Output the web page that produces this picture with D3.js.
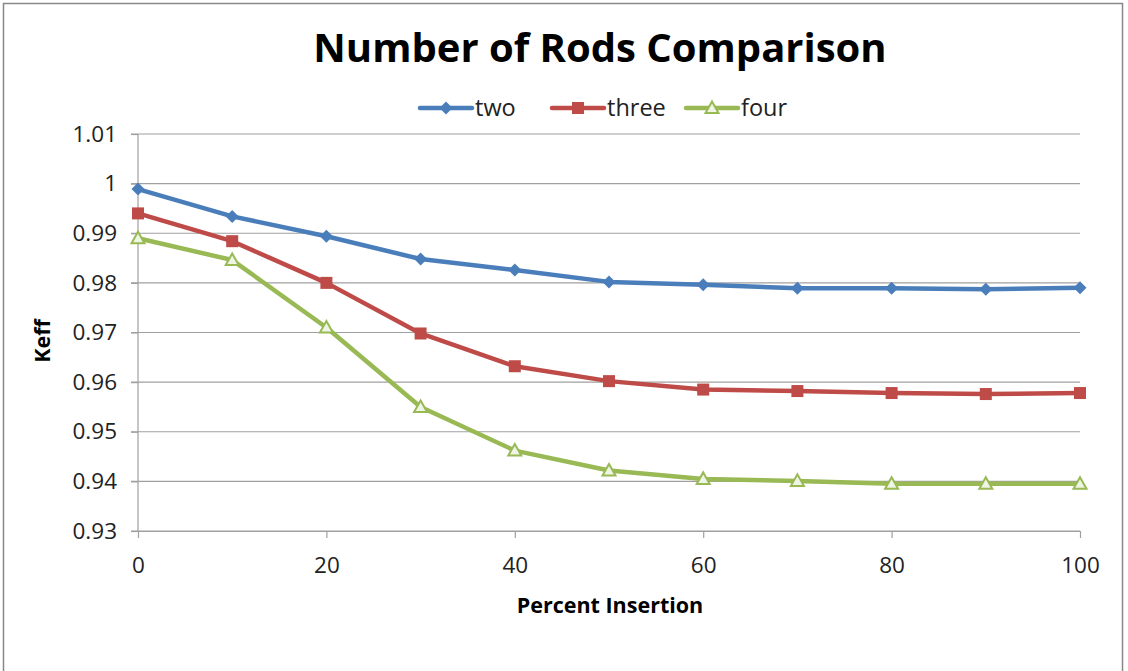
<!DOCTYPE html>
<html><head><meta charset="utf-8">
<script src="https://cdn.jsdelivr.net/npm/d3@7"></script>
<style>body{margin:0;background:#fff}svg{display:block}</style>
</head><body><svg id="c" width="1128" height="671"></svg>
<script>
const xValues = [0,10,20,30,40,50,60,70,80,90,100];
const twoValues = [0.9989,0.9934,0.9894,0.9848,0.9826,0.9802,0.9796,0.9789,0.9789,0.9787,0.9790];
const threeValues = [0.9940,0.9884,0.9800,0.9698,0.9632,0.9602,0.9585,0.9582,0.9578,0.9576,0.9578];
const fourValues = [0.9890,0.9846,0.9710,0.9550,0.9462,0.9422,0.9405,0.9401,0.9395,0.9395,0.9395];
const seriesNames = ["two","three","four"];
const seriesColors = ["#4A7EBB","#BE4B48","#98B954"];
const xTicks = [0,20,40,60,80,100];
const yTicks = [0.93,0.94,0.95,0.96,0.97,0.98,0.99,1.0,1.01];
const titleText = "Number of Rods Comparison";
const xTitle = "Percent Insertion";
const yTitle = "Keff";

const font = "'Open Sans', 'Liberation Sans', sans-serif";
const svg = d3.select("#c");
svg.append("rect").attr("x",3.5).attr("y",3.5).attr("width",1119).attr("height",700)
  .attr("fill","#fff").attr("stroke","#888").attr("stroke-width",1.5);

const x = d3.scaleLinear().domain([0,100]).range([138,1080]);
const y = d3.scaleLinear().domain([0.93,1.01]).range([531,134]);

svg.append("g").selectAll("line").data(yTicks).join("line")
  .attr("x1",131).attr("x2",1080).attr("y1",d=>y(d)).attr("y2",d=>y(d))
  .attr("stroke","#a0a0a0").attr("stroke-width",1.2);

const yAxis = d3.axisLeft(y).tickValues(yTicks).tickSize(7).tickFormat(d=>d3.format("")(+d.toFixed(2)));
const gy = svg.append("g").attr("transform","translate(138,0)").call(yAxis);
gy.select(".domain").attr("stroke","#a0a0a0").attr("stroke-width",1.2).attr("d","M0,134V531");
gy.selectAll(".tick line").attr("stroke","#a0a0a0").attr("stroke-width",1.2);
gy.selectAll("text").attr("font-family",font).attr("font-size",22.5).attr("fill","#222").attr("x",-21);

const xAxis = d3.axisBottom(x).tickValues(xTicks).tickSize(7).tickSizeOuter(0);
const gx = svg.append("g").attr("transform","translate(0,531)").call(xAxis);
gx.select(".domain").attr("stroke","#a0a0a0").attr("stroke-width",1.2);
gx.selectAll(".tick line").attr("stroke","#a0a0a0").attr("stroke-width",1.2);
gx.selectAll("text").attr("font-family",font).attr("font-size",22.5).attr("fill","#222").attr("y",21).attr("dy","0.95em");

svg.append("text").attr("x",600).attr("y",62).attr("text-anchor","middle")
  .attr("font-family",font).attr("font-weight","bold").attr("font-size",40).attr("fill","#000").text(titleText);
svg.append("text").attr("x",610).attr("y",613).attr("text-anchor","middle")
  .attr("font-family",font).attr("font-weight","bold").attr("font-size",21.5).attr("fill","#000").text(xTitle);
svg.append("text").attr("transform","translate(50,341) rotate(-90)").attr("text-anchor","middle")
  .attr("font-family",font).attr("font-weight","bold").attr("font-size",21.5).attr("fill","#000").text(yTitle);

const seriesData = [twoValues,threeValues,fourValues];
const line = d3.line().x((d,i)=>x(xValues[i])).y(d=>y(d));

function marker(g, type, color, cx, cy){
  if(type===0){
    g.append("path").attr("d",`M${cx},${cy-6.5}L${cx+6.5},${cy}L${cx},${cy+6.5}L${cx-6.5},${cy}Z`).attr("fill",color);
  } else if(type===1){
    g.append("rect").attr("x",cx-6).attr("y",cy-6).attr("width",12).attr("height",12).attr("fill",color);
  } else {
    g.append("path").attr("d",`M${cx},${cy-6.5}L${cx+6.5},${cy+5}L${cx-6.5},${cy+5}Z`)
      .attr("fill","#eef5e4").attr("stroke",color).attr("stroke-width",2);
  }
}

seriesData.forEach((vals,si)=>{
  const g = svg.append("g");
  g.append("path").datum(vals).attr("d",line).attr("fill","none")
    .attr("stroke",seriesColors[si]).attr("stroke-width",4.5).attr("stroke-linejoin","round");
  vals.forEach((v,i)=>marker(g,si,seriesColors[si],x(xValues[i]),y(v)));
});

const legendX = [420,552,686];
seriesNames.forEach((n,i)=>{
  const g = svg.append("g");
  g.append("line").attr("x1",legendX[i]).attr("x2",legendX[i]+52).attr("y1",108).attr("y2",108)
    .attr("stroke",seriesColors[i]).attr("stroke-width",4.5).attr("stroke-linecap","round");
  marker(g,i,seriesColors[i],legendX[i]+26,108);
  g.append("text").attr("x",legendX[i]+55).attr("y",116).attr("font-family",font).attr("font-size",23.5)
    .attr("fill","#222").text(n);
});
</script></body></html>
